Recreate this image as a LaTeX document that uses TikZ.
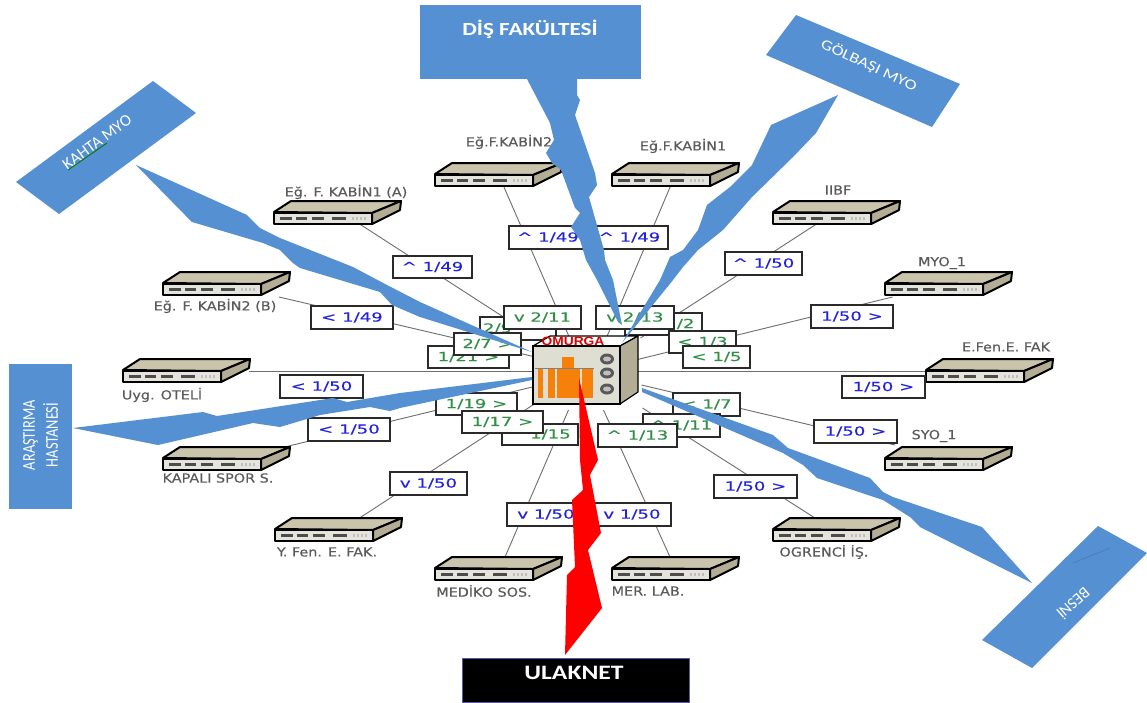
\documentclass[tikz,border=0pt]{standalone}
\usepackage{fontspec}
\usetikzlibrary{backgrounds}
\newfontfamily\labfont[FakeStretch=1.45,FakeBold=0.3]{DejaVu Sans}
\newfontfamily\swfont[FakeStretch=1.15,FakeBold=0.3]{DejaVu Sans}
\newfontfamily\boxfont{Carlito}
\newfontfamily\narrowfont[FakeStretch=0.8]{Carlito}
\newfontfamily\widefont[FakeStretch=1.25]{Carlito}
\newfontfamily\wideboldfont[FakeStretch=1.25]{Carlito Bold}
\newfontfamily\hubfont[FakeStretch=1.15]{Liberation Sans Bold}
\definecolor{bluefill}{HTML}{5590D2}
\definecolor{bluetxt}{HTML}{2222DD}
\definecolor{greentxt}{HTML}{2F8F45}
\definecolor{swtop}{HTML}{CBC4AC}
\definecolor{swside}{HTML}{B4AD96}
\definecolor{swstrip}{HTML}{E4E4DC}
\definecolor{wire}{HTML}{6E6E6E}
\definecolor{swtxt}{HTML}{5A5A5A}
\definecolor{boxline}{HTML}{2A2A2A}
\newcommand\sw[3]{%
  \node[swnode] (#1) at ({#2+63.5},{#3+12}) {};
  \begin{scope}[shift={(#2,#3)},line join=round]
    \draw[black,line width=2pt,fill=swtop] (0,11) -- (17,0) -- (127,0) -- (98,12) -- cycle;
    \draw[black,line width=2pt,fill=swside] (98,12) -- (127,0) -- (126,9) -- (98,23) -- cycle;
    \draw[black,line width=2.2pt,fill=swstrip] (0,12) rectangle (98,23);
    \foreach \a/\b in {6/18,22/33,38/50,58/72}
      \fill[black!70] (\a,16) rectangle (\b,19);
    \foreach \a in {78,82,86,90}
      \fill[black!25] (\a,16) rectangle (\a+2,19);
  \end{scope}}
\newcommand\lab[7][]{%
  \node[labbox,#1,minimum width={(#5-#3)*1pt},minimum height={(#6-#4)*1pt}] (#2) at ({(#3+#5)/2},{(#4+#6)/2}) {#7};}
\newcommand\up{\textasciicircum}
\tikzset{
  swnode/.style={minimum width=127pt,minimum height=24pt,inner sep=0,outer sep=0},
  swlab/.style={font=\swfont\fontsize{12.5}{14}\selectfont,text=swtxt,inner sep=0},
  labbox/.style={draw=boxline,line width=1.4pt,fill=white,inner sep=0,outer sep=0,font=\labfont\fontsize{12.5}{14}\selectfont},
  bl/.style={text=bluetxt},
  gr/.style={text=greentxt},
  link/.style={draw=wire,line width=0.9pt},
  bolt/.style={fill=bluefill,draw=none},
  whitelab/.style={text=white,inner sep=0},
}
\begin{document}
\begin{tikzpicture}[x=1pt,y=-1pt]
\useasboundingbox (0,0) rectangle (1147,702);
% switches
\sw{swA}{274}{201}
\sw{swB}{163}{272}
\sw{swU}{123}{359}
\sw{swK}{163}{447}
\sw{swY}{275}{518}
\sw{swM}{435}{557}
\sw{swL}{612}{557}
\sw{swO}{773}{518}
\sw{swS}{885}{447}
\sw{swE}{926}{359}
\sw{swT}{885}{272}
\sw{swI}{773}{201}
\sw{swC}{612}{163}
\sw{swD}{435}{163}
% switch names
\node[swlab] (tA) at (346,192) {Eğ. F. KABİN1 (A)};
\node[swlab] (tB) at (215,306) {Eğ. F. KABİN2 (B)};
\node[swlab] (tU) at (162,395) {Uyg. OTELİ};
\node[swlab] (tK) at (218,478) {KAPALI SPOR S.};
\node[swlab] (tY) at (327,552) {Y. Fen. E. FAK.};
\node[swlab] (tM) at (484,591) {MEDİKO SOS.};
\node[swlab] (tL) at (648,591) {MER. LAB.};
\node[swlab] (tO) at (824,552) {OGRENCİ İŞ.};
\node[swlab] (tS) at (934,436) {SYO\_1};
\node[swlab] (tE) at (1006,347) {E.Fen.E. FAK};
\node[swlab] (tT) at (942,263) {MYO\_1};
\node[swlab] (tI) at (838,190) {IIBF};
\node[swlab] (tD) at (509,142) {Eğ.F.KABİN2};
\node[swlab] (tC) at (683,146) {Eğ.F.KABİN1};
% port labels, outer ring
\lab[bl]{pA}{393}{256}{472}{278}{\up\ 1/49}
\lab[bl]{pB}{311}{306}{393}{329}{< 1/49}
\lab[bl]{pU}{280}{375}{363}{398}{< 1/50}
\lab[bl]{pK}{308}{418}{390}{441}{< 1/50}
\lab[bl]{pY}{390}{472}{467}{495}{v 1/50}
\lab[bl]{pM}{507}{503}{585}{526}{v 1/50}
\lab[bl]{pL}{593}{503}{671}{526}{v 1/50}
\lab[bl]{pO}{714}{475}{797}{498}{1/50 >}
\lab[bl]{pS}{814}{420}{897}{443}{1/50 >}
\lab[bl]{pE}{842}{376}{925}{398}{1/50 >}
\lab[bl]{pT}{811}{305}{893}{328}{1/50 >}
\lab[bl]{pI}{725}{252}{802}{275}{\up\ 1/50}
\lab[bl]{pC}{591}{226}{668}{249}{\up\ 1/49}
\lab[bl]{pD}{509}{226}{587}{249}{\up\ 1/49}
% port labels, inner ring
\lab[gr,text width=70pt,align=left]{g29}{480}{317}{556}{340}{2/9}
\lab[gr]{g121}{428}{346}{509}{368}{1/21 >}
\lab[gr]{g27}{454}{333}{521}{355}{2/7 >}
\lab[gr]{g211}{504}{306}{581}{329}{v 2/11}
\lab[gr,text width=62pt,align=right]{g22}{625}{313}{702}{335}{/2}
\lab[gr]{g213}{596}{306}{674}{329}{v 2/13}
\lab[gr]{g13}{669}{331}{736}{353}{< 1/3}
\lab[gr]{g15}{683}{346}{750}{368}{< 1/5}
\lab[gr]{g17}{673}{393}{740}{416}{< 1/7}
\lab[gr]{g111}{643}{414}{720}{437}{\up\ 1/11}
\lab[gr]{g115}{502}{424}{578}{445}{\up\ 1/15}
\lab[gr]{g119}{436}{393}{517}{415}{1/19 >}
\lab[gr]{g117}{462}{411}{543}{433}{1/17 >}
\lab[gr]{g113}{598}{424}{677}{447}{\up\ 1/13}
% hub
\node[minimum width=105pt,minimum height=68pt,inner sep=0,outer sep=0] (hub) at (585.5,370) {};
\draw[black,line width=1.2pt,fill=white,line join=round] (533,346) -- (550,336) -- (638,336) -- (620,346) -- cycle;
\draw[black,line width=1.2pt,fill=swside,line join=round] (620,346) -- (638,336) -- (638,392) -- (620,404) -- cycle;
\draw[black,line width=1.6pt,fill=swstrip!80!swtop] (533,346) rectangle (620,404);
\foreach \a/\b in {538/543,548/555,557/562,574/580,582/593}
  \fill[orange!85!brown] (\a,368) rectangle (\b,398);
\fill[orange!85!brown] (562,357) rectangle (574,398);
\draw[gray,line width=0.8pt] (535,368) -- (594,368);
\foreach \yy in {359,373,389}{
  \fill[black!65] (607,\yy) ellipse [x radius=7,y radius=5.5];
  \fill[black!25] (607,\yy) ellipse [x radius=4,y radius=2.5];
}
\node[text=red!85!black,inner sep=0,font=\hubfont\fontsize{12}{13}\selectfont] (omurga) at (573,341) {OMURGA};
% connectors
\begin{scope}[on background layer]
\fill[white] (0,0) rectangle (1147,702);
\draw[link] ([shift={(19,9)}]swA.center) -- (hub.center);
\draw[link] ([shift={(52.5,13)}]swB.center) -- ([shift={(-50,-13)}]hub.center);
\draw[link] ([shift={(62,0)}]swU.center) -- ([shift={(-50,1)}]hub.center);
\draw[link] ([shift={(58,-12)}]swK.center) -- ([shift={(-45,15)}]hub.center);
\draw[link] ([shift={(19.5,-11)}]swY.center) -- ([shift={(-45,30)}]hub.center);
\draw[link] ([shift={(6.5,-12)}]swM.center) -- ([shift={(-17,40)}]hub.center);
\draw[link] ([shift={(-5.5,-12)}]swL.center) -- ([shift={(18,40)}]hub.center);
\draw[link] ([shift={(-21.5,-12)}]swO.center) -- ([shift={(57,38)}]hub.center);
\draw[link] ([shift={(-53.5,-14)}]swS.center) -- ([shift={(56,15)}]hub.center);
\draw[link] ([shift={(-63,0)}]swE.center) -- ([shift={(50,1)}]hub.center);
\draw[link] ([shift={(-56,13)}]swT.center) -- ([shift={(50,-10)}]hub.center);
\draw[link] ([shift={(-20,11)}]swI.center) -- ([shift={(55,-32)}]hub.center);
\draw[link] ([shift={(-5,11)}]swC.center) -- ([shift={(20,-30)}]hub.center);
\draw[link] ([shift={(5,11)}]swD.center) -- ([shift={(-15,-30)}]hub.center);
\end{scope}
% blue bolts
\fill[bolt] (136,165) -- (247,215) -- (260,228) -- (280,238) -- (353,267) -- (387,285) -- (420,302) -- (532,352)
  -- (420,317) -- (392,305) -- (380,292) -- (300,268) -- (293,263) -- (280,250) -- (263,243) -- (192,222) -- (185,215) -- cycle;
\fill[bolt] (527,79) -- (550,123) -- (554,140) -- (546,153) -- (552,163) -- (561,170) -- (575,208) -- (580,213) -- (571,227) -- (580,240) -- (586,260) -- (597,280) -- (618,322) -- (622,325)
  -- (613,280) -- (605,260) -- (604,250) -- (589,197) -- (597,185) -- (595,173) -- (575,115) -- (580,100) -- (577,95) -- (577,79) -- cycle;
\fill[bolt] (838,95) -- (771,125) -- (752,165) -- (730,187) -- (707,205) -- (698,230) -- (683,250) -- (670,257) -- (660,280) -- (622,343)
  -- (673,280) -- (683,267) -- (698,250) -- (723,230) -- (752,197) -- (793,157) -- (816,133) -- cycle;
\fill[bolt] (73,428) -- (203,412) -- (217,416) -- (333,398) -- (347,402) -- (400,393) -- (532,377)
  -- (532,380) -- (400,408) -- (390,411) -- (370,407) -- (320,415) -- (280,427) -- (253,423) -- (158,445) -- cycle;
\fill[bolt] (1032,583) -- (982,527) -- (893,497) -- (883,492) -- (870,478) -- (788,448) -- (773,435) -- (642,388)
  -- (642,392) -- (783,453) -- (803,465) -- (817,478) -- (883,500) -- (910,517) -- (920,527) -- cycle;
% blue boxes
\fill[bolt] (16,182) -- (153,81) -- (196,113) -- (59,214) -- cycle;
\node[whitelab,rotate=36,font=\boxfont\fontsize{16.5}{18}\selectfont] (kahta) at (97,142) {KAHTA MYO};
\draw[green!50!black,line width=0.9pt] (68,170) -- (107,143);
\fill[bolt] (796,15) -- (960,84) -- (932,127) -- (766,55) -- cycle;
\node[whitelab,rotate=-25,font=\widefont\fontsize{14.5}{16}\selectfont] (golbasi) at (869,65) {GÖLBAŞI MYO};
\fill[bolt] (1098,526) -- (1147,553) -- (1032,668) -- (982,640) -- cycle;
\draw[bluefill!85!black,line width=0.6pt] (1073,563) -- (1110,548);
\node[whitelab,rotate=-139,font=\boxfont\fontsize{16}{18}\selectfont] (besni) at (1074,604) {BESNİ};
\node[fill=bluefill,inner sep=0,outer sep=0,minimum width=221pt,minimum height=74pt] (dis) at (530.5,42) {};
\node[whitelab,font=\wideboldfont\fontsize{18.5}{20}\selectfont] (distext) at (530,29) {DİŞ FAKÜLTESİ};
\node[fill=bluefill,inner sep=0,outer sep=0,minimum width=63pt,minimum height=145pt] (aras) at (40.5,436.5) {};
\node[whitelab,rotate=90,font=\narrowfont\fontsize{18}{23}\selectfont,align=center] (arastext) at (40.5,435) {ARAŞTIRMA\\HASTANESİ};
% red bolt and Ulaknet
\fill[red] (579,378) -- (598,460) -- (590,475) -- (601,533) -- (588,550) -- (602,608) -- (565,655) -- (567,575) -- (575,567) -- (572,500) -- (583,490) -- (580,460) -- cycle;
\node[fill=black,draw=blue!30!gray,line width=0.5pt,inner sep=0,outer sep=0,minimum width=227pt,minimum height=44pt] (ulak) at (575.5,680) {};
\node[whitelab,font=\wideboldfont\fontsize{20.5}{22}\selectfont] (ulaktext) at (574,673) {ULAKNET};
\end{tikzpicture}
\end{document}
